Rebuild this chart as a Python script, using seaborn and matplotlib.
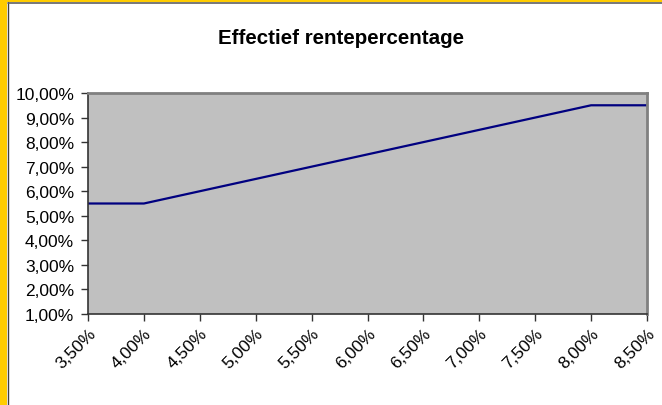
import matplotlib
matplotlib.use("Agg")
import matplotlib.pyplot as plt
import seaborn as sns
import pandas as pd
from matplotlib.patches import Rectangle
from matplotlib.lines import Line2D

# nominal rate categories (x) and effective rate (y), in percent
nominale_rente = [3.5, 4.0, 4.5, 5.0, 5.5, 6.0, 6.5, 7.0, 7.5, 8.0, 8.5]
effectieve_rente = [5.5, 5.5, 6.0, 6.5, 7.0, 7.5, 8.0, 8.5, 9.0, 9.5, 9.5]
y_ticks = [1, 2, 3, 4, 5, 6, 7, 8, 9, 10]


def pct(v):
    return f"{v:.2f}".replace(".", ",") + "%"


df = pd.DataFrame({"nominaal": nominale_rente, "effectief": effectieve_rente})

sns.set_style("white")
plt.rcParams["font.family"] = ["Liberation Sans", "DejaVu Sans"]
plt.rcParams["text.color"] = "black"
plt.rcParams["xtick.color"] = "black"
plt.rcParams["ytick.color"] = "black"

fig = plt.figure(figsize=(6.62, 4.06), dpi=100)
fig.patch.set_facecolor("white")

W, H = 662, 406
ax = fig.add_axes([88 / W, 1 - 315 / H, (647 - 88) / W, (315 - 94) / H])
ax.set_facecolor("#c0c0c0")

sns.lineplot(data=df, x="nominaal", y="effectief", ax=ax,
             color="#000080", linewidth=1.6)

ax.set_xlim(nominale_rente[0], nominale_rente[-1])
ax.set_ylim(y_ticks[0], y_ticks[-1])
ax.set_xticks(nominale_rente)
ax.set_xticklabels([pct(v) for v in nominale_rente], rotation=45,
                   ha="right", va="top", rotation_mode="anchor")
ax.set_yticks(y_ticks)
ax.set_yticklabels([pct(v) for v in y_ticks])
ax.tick_params(axis="both", labelsize=12.5, length=5, width=1,
               color="#333333", labelcolor="black", direction="out",
               bottom=True, left=True)
ax.tick_params(axis="y", pad=5)
ax.tick_params(axis="x", pad=3)
ax.set_xlabel("")
ax.set_ylabel("")

for side in ["top", "right"]:
    ax.spines[side].set_color("#808080")
    ax.spines[side].set_linewidth(2)
for side in ["left", "bottom"]:
    ax.spines[side].set_color("#333333")
    ax.spines[side].set_linewidth(1.2)

fig.text(341 / W, 1 - 38 / H, "Effectief rentepercentage",
         ha="center", va="center", fontsize=14.8, fontweight="bold",
         color="black")

# yellow frame on the left and top edge
fig.patches.append(Rectangle((0, 0), 7 / W, 1, transform=fig.transFigure,
                             facecolor="#ffcc00", edgecolor="none"))
fig.patches.append(Rectangle((0, 1 - 3 / H), 1, 3 / H, transform=fig.transFigure,
                             facecolor="#ffcc00", edgecolor="none"))
fig.lines.append(Line2D([7.5 / W, 7.5 / W], [0, 1 - 3 / H], transform=fig.transFigure,
                        color="#404040", linewidth=1))
fig.lines.append(Line2D([7.5 / W, 1], [1 - 3.8 / H, 1 - 3.8 / H], transform=fig.transFigure,
                        color="#606060", linewidth=1.2))

fig.savefig("out.png", dpi=100)
